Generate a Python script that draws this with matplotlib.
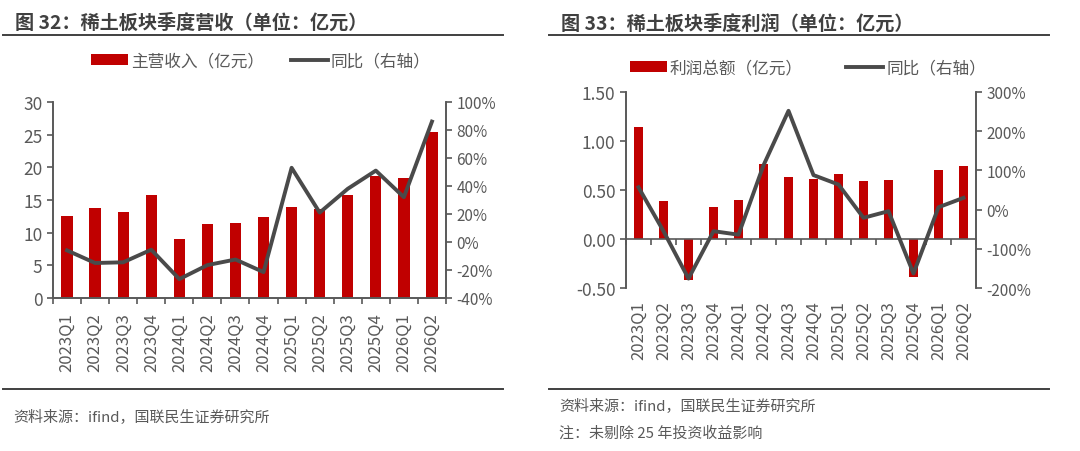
import numpy as np
import matplotlib
matplotlib.use("Agg")
import matplotlib.pyplot as plt
from matplotlib.patches import Patch
from matplotlib.lines import Line2D

plt.rcParams["font.family"] = ["Noto Sans CJK SC", "DejaVu Sans"]
plt.rcParams["axes.unicode_minus"] = False

QUARTERS = ["2023Q1", "2023Q2", "2023Q3", "2023Q4", "2024Q1", "2024Q2", "2024Q3",
            "2024Q4", "2025Q1", "2025Q2", "2025Q3", "2025Q4", "2026Q1", "2026Q2"]

REVENUE = [12.5, 13.7, 13.1, 15.7, 9.0, 11.4, 11.5, 12.35, 13.9, 13.6, 15.8, 18.7, 18.3, 25.4]
REVENUE_YOY = [-6, -15, -14.5, -5.5, -26.5, -16.5, -12.5, -21.5, 53, 21, 38, 51, 32, 86]

PROFIT = [1.14, 0.39, -0.42, 0.33, 0.40, 0.765, 0.63, 0.61, 0.66, 0.59, 0.60, -0.39, 0.70, 0.745]
PROFIT_YOY = [57, -55, -176, -55, -64, 113, 252, 88, 64, -21, -4, -163, 6, 30]

RED = "#C00000"
LINE = "#4a4a4a"
GRAY = "#595959"
DARK = "#404040"
W, H = 1080, 452


def px(x, y):
    return x / W, 1 - y / H


def style_axes(ax, ax2):
    for a in (ax, ax2):
        a.spines["top"].set_visible(False)
        for s in ("left", "right", "bottom"):
            a.spines[s].set_color(GRAY)
            a.spines[s].set_linewidth(1.2)
    ax.tick_params(axis="y", colors=GRAY, labelcolor=GRAY, labelsize=12.5, length=4, width=1.2)
    ax2.tick_params(axis="y", colors=GRAY, labelcolor=GRAY, labelsize=11, length=4, width=1.2)
    ax.set_xticks(np.arange(len(QUARTERS) + 1) - 0.5, minor=True)
    ax.tick_params(axis="x", which="minor", length=4, width=1.2, colors=GRAY)
    ax.tick_params(axis="x", which="major", length=0)


fig = plt.figure(figsize=(10.8, 4.52), dpi=100)
x = np.arange(len(QUARTERS))

# ---- left: revenue
ax1 = fig.add_axes([53 / W, 1 - 299 / H, 393 / W, 196 / H])
ax1b = ax1.twinx()
ax1.bar(x, REVENUE, width=0.4, color=RED, zorder=2)
ax1b.plot(x, REVENUE_YOY, color=LINE, lw=2.8, zorder=3)
ax1.set_xlim(-0.5, len(QUARTERS) - 0.5)
ax1.set_ylim(0, 30)
ax1.set_yticks(range(0, 31, 5))
ax1b.set_ylim(-40, 100)
ax1b.set_yticks(range(-40, 101, 20))
ax1b.set_yticklabels([f"{v}%" for v in range(-40, 101, 20)])
style_axes(ax1, ax1b)
ax1.set_xticks(x)
ax1.set_xticklabels(QUARTERS, rotation=90, fontsize=12, color=GRAY)
ax1.tick_params(axis="x", which="major", pad=10)

# ---- right: profit
ax2 = fig.add_axes([626 / W, 1 - 289 / H, 350 / W, 196 / H])
ax2b = ax2.twinx()
ax2.bar(x, PROFIT, width=0.38, color=RED, zorder=2)
ax2b.plot(x, PROFIT_YOY, color=LINE, lw=2.8, zorder=3)
ax2.set_xlim(-0.5, len(QUARTERS) - 0.5)
ax2.set_ylim(-0.5, 1.5)
ax2.set_yticks(np.arange(-0.5, 1.51, 0.5))
ax2.set_yticklabels([f"{v:.2f}" for v in np.arange(-0.5, 1.51, 0.5)])
ax2b.set_ylim(-200, 300)
ax2b.set_yticks(range(-200, 301, 100))
ax2b.set_yticklabels([f"{v}%" for v in range(-200, 301, 100)])
style_axes(ax2, ax2b)
ax2.spines["bottom"].set_position(("data", 0))
ax2b.spines["bottom"].set_visible(False)
ax2.set_xticks(x)
ax2.set_xticklabels([])
for i, q in enumerate(QUARTERS):
    ax2.text(i, -0.06, q, rotation=90, ha="center", va="top", fontsize=12,
             color=GRAY, transform=ax2.get_xaxis_transform())

# ---- titles, rules, legends, notes
fig.text(*px(15, 23), "图 32：稀土板块季度营收（单位：亿元）", fontsize=13.8,
         fontweight="bold", color=DARK, va="center")
fig.text(*px(561, 24), "图 33：稀土板块季度利润（单位：亿元）", fontsize=13.8,
         fontweight="bold", color=DARK, va="center")
for x0, x1 in ((3, 503), (549, 1049)):
    for yy in (36, 390):
        fig.add_artist(Line2D([x0 / W, x1 / W], [1 - yy / H] * 2, color=DARK, lw=1.4))

for cx, cy, lab, gap in ((261, 62, "主营收入（亿元）", 1.6), (808, 69, "利润总额（亿元）", 2.6)):
    handles = [Patch(facecolor=RED, label=lab), Line2D([], [], color=LINE, lw=2.8, label="同比（右轴）")]
    leg = fig.legend(handles=handles, loc="center", bbox_to_anchor=px(cx, cy), ncol=2,
                     frameon=False, fontsize=12, handlelength=2.2, handleheight=0.6,
                     handletextpad=0.2, columnspacing=gap, borderaxespad=0)
    for t in leg.get_texts():
        t.set_color(GRAY)

fig.text(*px(13, 418), "资料来源：ifind，国联民生证券研究所", fontsize=10.8, color=GRAY, va="center")
fig.text(*px(559, 407), "资料来源：ifind，国联民生证券研究所", fontsize=10.8, color=GRAY, va="center")
fig.text(*px(559, 433), "注：未剔除 25 年投资收益影响", fontsize=10.8, color=GRAY, va="center")

fig.savefig("out.png", dpi=100)
